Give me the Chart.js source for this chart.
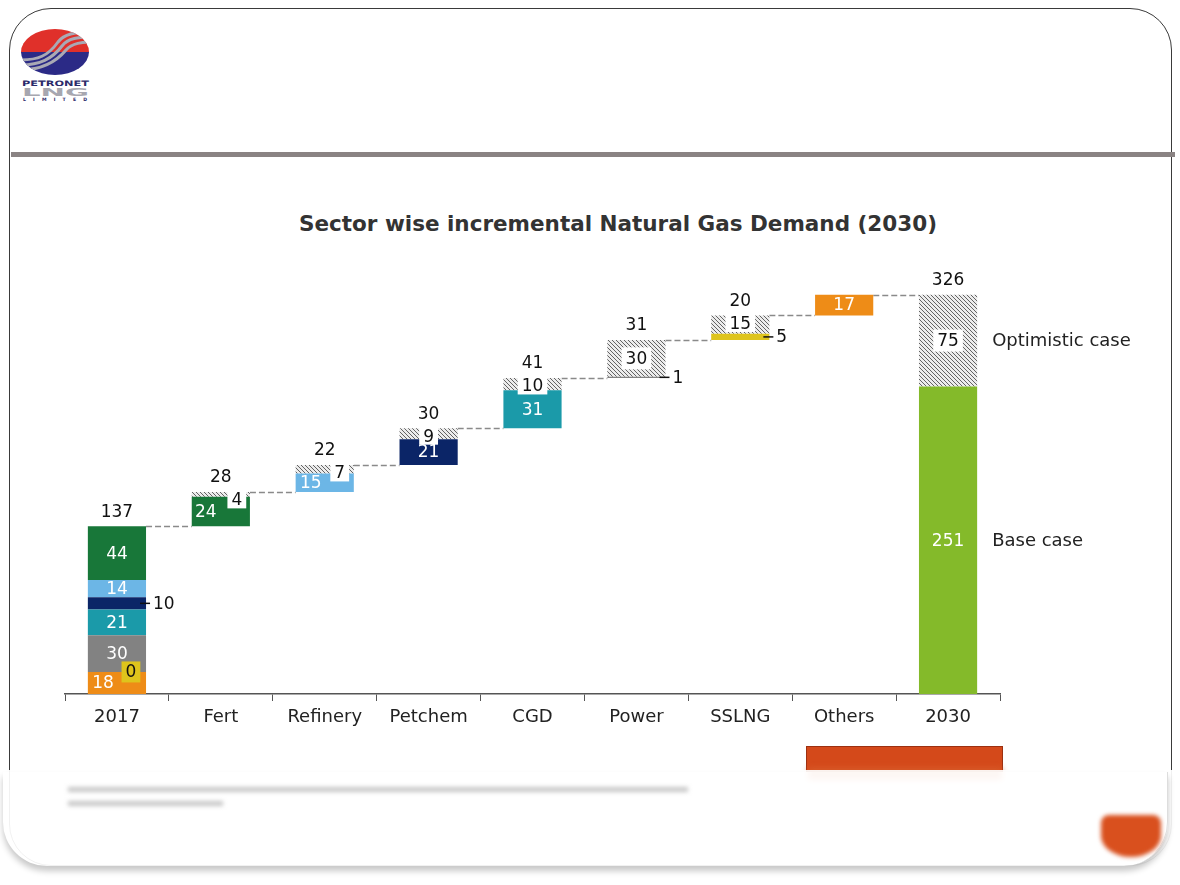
<!DOCTYPE html>
<html>
<head>
<meta charset="utf-8">
<title>Sector wise incremental Natural Gas Demand (2030)</title>
<script src="https://cdn.jsdelivr.net/npm/chart.js@4.4.1/dist/chart.umd.min.js"></script>
<style>
html, body { margin: 0; padding: 0; background: #fff; }
body { width: 1180px; height: 885px; position: relative; overflow: hidden; font-family: "DejaVu Sans", Verdana, sans-serif; }
.frame { position: absolute; left: 9px; top: 8px; width: 1163px; height: 858px; border: 1.5px solid #3a3a3a; border-radius: 42px; box-sizing: border-box; }
.rule { position: absolute; left: 11px; top: 152px; width: 1164px; height: 5px; background: #8a8383; }
.logo { position: absolute; left: 18px; top: 26px; }
.title { position: absolute; left: 0; width: 1236px; top: 211px; text-align: center; font-weight: bold; font-size: 21.5px; color: #333; }
#wrap { position: absolute; left: 0; top: 0; width: 1180px; height: 885px; }
.orange-bar { position: absolute; left: 806px; top: 746px; width: 197px; height: 26px; background: #d4491a; border: 1px solid #9c3010; box-sizing: border-box; }
.orange-blur { position: absolute; left: 808px; top: 768px; width: 194px; height: 12px; background: #d9602e; filter: blur(3px); opacity: .8; }
.veil { position: absolute; left: 0; top: 770px; width: 1180px; height: 115px; background: rgba(255,255,255,0.93); }
.base { position: absolute; left: 3px; top: 772px; width: 1164px; height: 94px; border-radius: 0 0 44px 44px; box-shadow: 0 5px 6px rgba(0,0,0,0.22); border-right: 1px solid #ddd; }
.note { position: absolute; left: 68px; height: 5px; background: #c8c8c8; filter: blur(2px); }
.blob { position: absolute; left: 1101px; top: 815px; width: 60px; height: 42px; background: #d9501e; border-radius: 8px 8px 50% 50%; filter: blur(2px); }
</style>
</head>
<body>
<div class="frame"></div>
<div class="rule"></div>
<svg class="logo" width="76" height="76" viewBox="0 0 76 76">
  <defs>
    <clipPath id="ell"><ellipse cx="37" cy="26" rx="34" ry="23"/></clipPath>
  </defs>
  <g clip-path="url(#ell)">
    <rect x="0" y="0" width="76" height="26" fill="#e0302a"/>
    <rect x="0" y="26" width="76" height="26" fill="#2b2a86"/>
    <path d="M2 34 C20 34 30 30 40 16 C46 8 56 6 76 6" stroke="#a9a9b4" stroke-width="3" fill="none"/>
    <path d="M2 39 C22 39 34 33 44 20 C50 12 60 11 76 11" stroke="#a9a9b4" stroke-width="3" fill="none"/>
    <path d="M2 44 C24 44 38 36 48 24 C54 17 64 16 76 16" stroke="#a9a9b4" stroke-width="3" fill="none"/>
  </g>
  <text x="4" y="60" font-family="DejaVu Sans" font-weight="bold" font-size="7.4" fill="#2b2a6a" textLength="67" lengthAdjust="spacingAndGlyphs">PETRONET</text>
  <text x="4" y="69.5" font-family="DejaVu Sans" font-weight="bold" font-size="10" fill="#a7a7b0" textLength="67" lengthAdjust="spacingAndGlyphs">LNG</text>
  <text x="5" y="75" font-family="DejaVu Sans" font-weight="bold" font-size="4.6" fill="#2b2a6a" textLength="64">LIMITED</text>
</svg>
<div class="title">Sector wise incremental Natural Gas Demand (2030)</div>
<div id="wrap"><canvas id="demandChart"></canvas></div>
<div class="orange-bar"></div>
<div class="orange-blur"></div>
<div class="veil"></div>
<div class="base"></div>
<div class="note" style="top:787px;width:620px"></div>
<div class="note" style="top:801px;width:155px"></div>
<div class="blob"></div>
<script>
const categories = ['2017', 'Fert', 'Refinery', 'Petchem', 'CGD', 'Power', 'SSLNG', 'Others', '2030']

// 2017 demand by sector, stacked bottom to top
const sectors2017 = ['Others', 'SSLNG', 'Power', 'CGD', 'Petchem', 'Refinery', 'Fert']
const demand2017 = [18, 0, 30, 21, 10, 14, 44]

// incremental demand, Fert .. Others
const baseIncrement = [24, 15, 21, 31, 1, 5, 17]
const optimisticIncrement = [4, 7, 9, 10, 30, 15, 0]

const base2030 = 251
const optimistic2030 = 75

const sectorColors = {
    Others: '#ee8c17',
    SSLNG: '#dec41c',
    Power: '#828282',
    CGD: '#1b9aa9',
    Petchem: '#0b2567',
    Refinery: '#6cb6e6',
    Fert: '#187739'
}
const baseCaseColor = '#84ba2a'

// hatched fill for the optimistic part
function hatchPattern() {
    const c = document.createElement('canvas')
    c.width = 4
    c.height = 4
    const g = c.getContext('2d')
    g.fillStyle = '#ececec'
    g.fillRect(0, 0, 4, 4)
    g.strokeStyle = '#636363'
    g.lineWidth = 1
    g.beginPath()
    g.moveTo(0, 0); g.lineTo(4, 4)
    g.moveTo(-1, 3); g.lineTo(1, 5)
    g.moveTo(3, -1); g.lineTo(5, 1)
    g.stroke()
    return g.createPattern(c, 'repeat')
}

// running totals for the floating bars
const spacer = [null]
const tops = [demand2017.reduce((a, b) => a + b, 0)]
for (let i = 0; i < baseIncrement.length; i++) {
    spacer.push(tops[i])
    tops.push(tops[i] + baseIncrement[i] + optimisticIncrement[i])
}
spacer.push(null)
tops.push(base2030 + optimistic2030)

const datasets = [{ label: 'spacer', data: spacer, backgroundColor: 'rgba(0,0,0,0)' }]
sectors2017.forEach((s, j) => {
    const data = categories.map(() => null)
    data[0] = demand2017[j]
    const k = categories.indexOf(s)
    data[k] = baseIncrement[k - 1]
    datasets.push({ label: s, data: data, backgroundColor: sectorColors[s] })
})
datasets.push({ label: 'Base case', data: categories.map((c, i) => i === 8 ? base2030 : null), backgroundColor: baseCaseColor })
datasets.push({
    label: 'Optimistic case',
    data: [null].concat(optimisticIncrement.map(v => v || null), [optimistic2030]),
    backgroundColor: hatchPattern()
})
const optIndex = datasets.length - 1
const baseIndex = datasets.length - 2

const FONT = '"DejaVu Sans", Verdana, sans-serif'

const connectorPlugin = {
    id: 'connectors',
    beforeDatasetsDraw(chart) {
        const { ctx, scales: { x, y } } = chart
        const half = chart.getDatasetMeta(optIndex).data[8].width / 2
        ctx.save()
        ctx.strokeStyle = '#8a8a8a'
        ctx.lineWidth = 1.3
        ctx.setLineDash([6, 3])
        for (let i = 0; i < categories.length - 1; i++) {
            const py = Math.round(y.getPixelForValue(tops[i])) + 0.5
            ctx.beginPath()
            ctx.moveTo(x.getPixelForValue(i) + half, py)
            ctx.lineTo(x.getPixelForValue(i + 1) - half, py)
            ctx.stroke()
        }
        ctx.restore()
    }
}

function sideLabel(ctx, bar, text) {
    const right = bar.x + bar.width / 2
    const cy = (bar.y + bar.base) / 2
    ctx.strokeStyle = '#111'
    ctx.lineWidth = 1.5
    ctx.beginPath()
    ctx.moveTo(right - 6, cy)
    ctx.lineTo(right + 4, cy)
    ctx.stroke()
    ctx.fillStyle = '#111'
    ctx.textAlign = 'left'
    ctx.fillText(text, right + 7, cy + 1)
}

function boxLabel(ctx, cx, cy, text, fill, h) {
    const w = ctx.measureText(text).width + 8
    ctx.fillStyle = fill
    ctx.fillRect(cx - w / 2, cy - h / 2, w, h)
    ctx.fillStyle = '#111'
    ctx.textAlign = 'center'
    ctx.fillText(text, cx, cy + 1)
}

// small nudges so labels do not collide, as in the original
const hatchShift = { 1: 16, 2: 15 }
const solidShift = { 1: -15, 2: -14 }

const labelPlugin = {
    id: 'labels',
    afterDatasetsDraw(chart) {
        const { ctx, scales: { y } } = chart
        ctx.save()
        ctx.font = '17px ' + FONT
        ctx.textBaseline = 'middle'

        // solid segments
        for (let d = 1; d <= sectors2017.length + 1; d++) {
            const meta = chart.getDatasetMeta(d)
            chart.data.datasets[d].data.forEach((v, i) => {
                if (v === null) return
                const bar = meta.data[i]
                const h = Math.abs(bar.base - bar.y)
                const cy = (bar.y + bar.base) / 2
                if (v === 0) {
                    boxLabel(ctx, bar.x + 14, bar.y, '0', sectorColors.SSLNG, 21)
                } else if (h >= 16) {
                    ctx.fillStyle = '#fff'
                    ctx.textAlign = 'center'
                    const shift = (i === 0 && d === 1) ? -14 : (solidShift[i] || 0)
                    ctx.fillText(String(v), bar.x + shift, cy + 1)
                } else {
                    sideLabel(ctx, bar, String(v))
                }
            })
        }

        // optimistic (hatched) segments
        const om = chart.getDatasetMeta(optIndex)
        chart.data.datasets[optIndex].data.forEach((v, i) => {
            if (v === null) return
            const bar = om.data[i]
            const h = Math.abs(bar.base - bar.y)
            const small = h < 20
            const cy = small ? bar.y + 8 : (bar.y + bar.base) / 2
            boxLabel(ctx, bar.x + (hatchShift[i] || 0), cy, String(v), '#fff', small ? 17 : 22)
        })

        // totals above each step
        ctx.fillStyle = '#111'
        ctx.textAlign = 'center'
        const half = om.data[8].width / 2
        tops.forEach((t, i) => {
            if (i > 0 && i < 8 && !optimisticIncrement[i - 1]) return
            const prev = i === 0 || i === 8 ? 0 : tops[i - 1]
            ctx.fillText(String(i === 0 || i === 8 ? t : t - prev), chart.scales.x.getPixelForValue(i), y.getPixelForValue(t) - 14)
        })

        // case labels right of 2030
        const last = om.data[8]
        const bm = chart.getDatasetMeta(baseIndex).data[8]
        ctx.textAlign = 'left'
        ctx.font = '18px ' + FONT
        ctx.fillStyle = '#222'
        ctx.fillText('Optimistic case', last.x + half + 15, (last.y + last.base) / 2 + 1)
        ctx.fillText('Base case', last.x + half + 15, (bm.y + bm.base) / 2 + 1)
        ctx.restore()
    }
}

const ctx = document.getElementById('demandChart').getContext('2d')
const demandChart = new Chart(ctx, {
    type: 'bar',
    data: { labels: categories, datasets: datasets },
    options: {
        responsive: true,
        maintainAspectRatio: false,
        animation: false,
        datasets: { bar: { categoryPercentage: 1, barPercentage: 0.56, borderWidth: 0 } },
        layout: { padding: { left: 65, right: 180, top: 253, bottom: 151 } },
        plugins: { legend: { display: false }, tooltip: { enabled: false }, title: { display: false } },
        scales: {
            x: {
                stacked: true,
                grid: { display: true, drawOnChartArea: false, drawTicks: true, tickLength: 7, color: '#555', offset: true },
                border: { display: true, color: '#555', width: 1.5 },
                ticks: { color: '#222', font: { family: FONT, size: 18 }, padding: 6 },
                afterFit(scale) { scale.height = 40 }
            },
            y: {
                stacked: true,
                display: false,
                min: 0,
                max: 360
            }
        }
    },
    plugins: [connectorPlugin, labelPlugin]
})
</script>
</body>
</html>
